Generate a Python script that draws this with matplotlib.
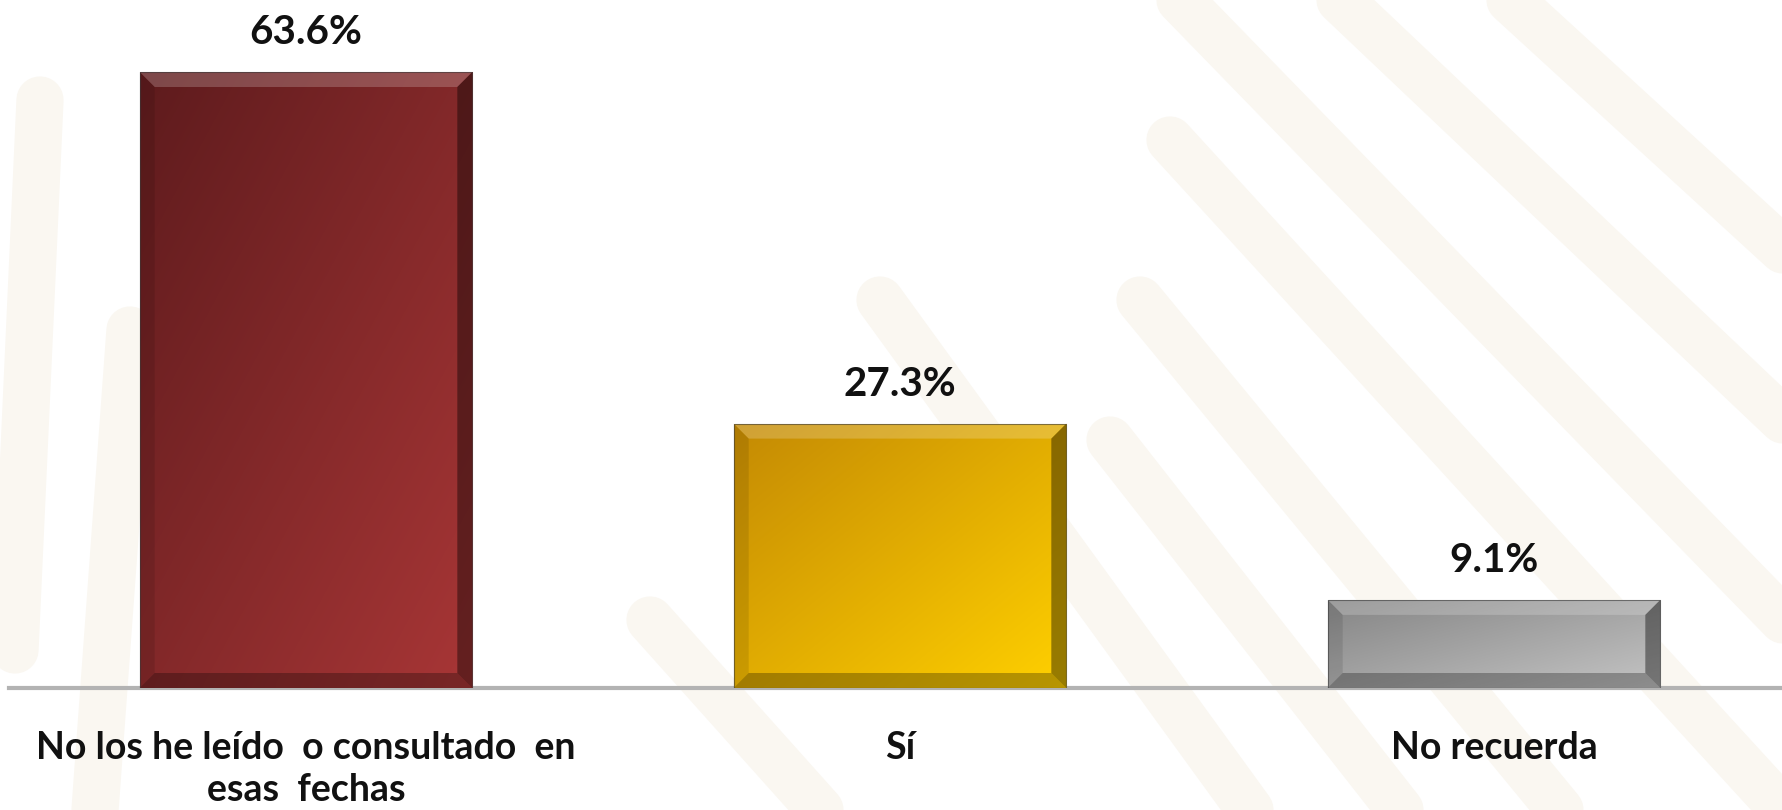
import numpy as np
import matplotlib.pyplot as plt
from matplotlib.colors import LinearSegmentedColormap
from matplotlib.patches import Polygon
from matplotlib.lines import Line2D

categories = ["No los he leído  o consultado  en\nesas  fechas", "Sí", "No recuerda"]
values = [63.6, 27.3, 9.1]
labels = ["63.6%", "27.3%", "9.1%"]
dark = ["#5e1b1d", "#c48a04", "#858585"]
light = ["#a83636", "#ffd000", "#c4c4c4"]

W, H = 1783, 810
fig = plt.figure(figsize=(W / 100, H / 100), dpi=100, facecolor="white")

# faint watermark bands (x, y from top in px)
bands = [((1180, 0), (1783, 620)), ((1340, 0), (1783, 420)), ((1510, 0), (1783, 250)),
         ((1170, 140), (1783, 810)), ((1140, 300), (1560, 810)), ((1110, 440), (1400, 810)),
         ((880, 300), (1250, 810)), ((650, 620), (820, 810)), ((40, 100), (15, 650)),
         ((130, 330), (95, 810))]
for (x0, y0), (x1, y1) in bands:
    fig.add_artist(Line2D([x0 / W, x1 / W], [1 - y0 / H, 1 - y1 / H], transform=fig.transFigure,
                          color="#faf7f1", lw=34, solid_capstyle="round", zorder=0))

ax_x0, ax_w = 9 / W, 1782 / W
ax_y0, ax_h = 122 / H, 678 / H
ax = fig.add_axes([ax_x0, ax_y0, ax_w, ax_h])
ax.patch.set_visible(False)
ax.set_xlim(-0.5, 2.5)
ax.set_ylim(0, 70)

x = np.arange(len(values))
bars = ax.bar(x, values, width=0.56, color="none", edgecolor="none", zorder=3)

# bevel size in data units (about 15 px)
bx = 15 / (ax_w * W / 3)
by = 15 / (ax_h * H / 70)

ny, nx = 100, 100
gy, gx = np.mgrid[0:ny, 0:nx]
grad = (gx / nx + gy / ny) / 2

for i, b in enumerate(bars):
    l, r = b.get_x(), b.get_x() + b.get_width()
    bot, top = 0, b.get_height()
    cmap = LinearSegmentedColormap.from_list("g%d" % i, [dark[i], light[i]])
    im = ax.imshow(grad, cmap=cmap, extent=(l, r, bot, top), aspect="auto", zorder=3,
                   interpolation="bilinear")
    im.set_clip_path(b)
    # bevels
    ax.add_patch(Polygon([(l, top), (r, top), (r - bx, top - by), (l + bx, top - by)],
                         closed=True, fc="white", alpha=0.2, ec="none", zorder=4))
    ax.add_patch(Polygon([(r, top), (r, bot), (r - bx, bot + by), (r - bx, top - by)],
                         closed=True, fc="black", alpha=0.4, ec="none", zorder=4))
    ax.add_patch(Polygon([(l, bot), (r, bot), (r - bx, bot + by), (l + bx, bot + by)],
                         closed=True, fc="black", alpha=0.28, ec="none", zorder=4))
    ax.add_patch(Polygon([(l, top), (l, bot), (l + bx, bot + by), (l + bx, top - by)],
                         closed=True, fc="black", alpha=0.1, ec="none", zorder=4))
    ax.add_patch(plt.Rectangle((l, bot), r - l, top, fill=False, ec="#3a3a3a", lw=0.8,
                               alpha=0.6, zorder=5))
    ax.annotate(labels[i], xy=(b.get_x() + b.get_width() / 2, top), xytext=(0, 15),
                textcoords="offset points", ha="center", va="bottom",
                fontsize=29, fontweight="bold", family="Lato", color="#111111")

for s in ["top", "right", "left"]:
    ax.spines[s].set_visible(False)
ax.spines["bottom"].set_color("#b3b3b3")
ax.spines["bottom"].set_linewidth(3)
ax.spines["bottom"].set_zorder(2)
ax.set_yticks([])
ax.set_xticks(x)
ax.set_xticklabels(categories, fontsize=27, fontweight="bold", family="Lato",
                   color="#111111", linespacing=1.3)
ax.tick_params(axis="x", length=0, pad=31)

fig.savefig("out.png", dpi=100, facecolor="white")
